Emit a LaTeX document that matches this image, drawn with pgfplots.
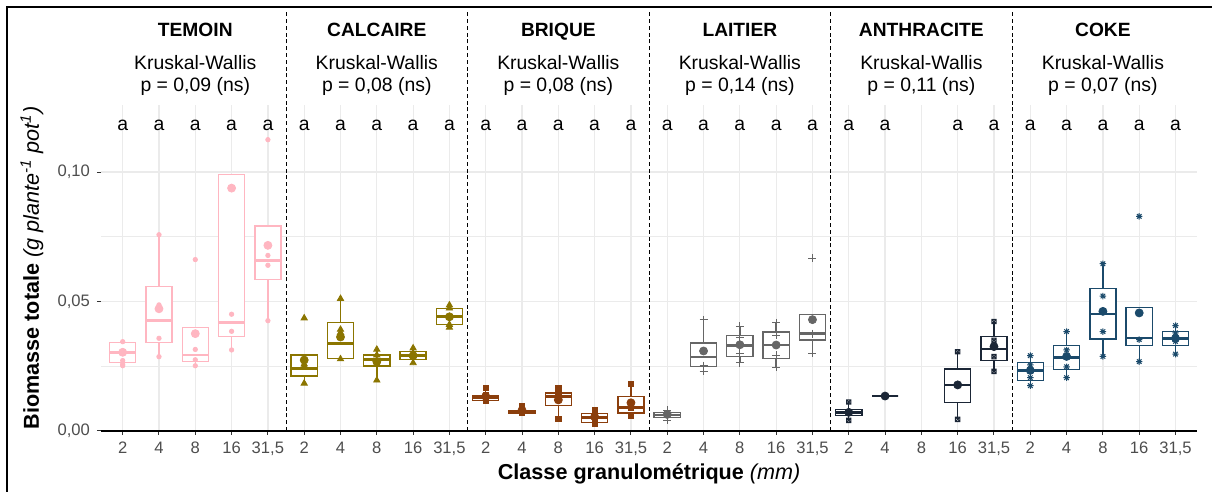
\documentclass[border=0pt]{standalone}
\usepackage{fontspec}
\setmainfont{Liberation Sans}
\usepackage{pgfplots}
\pgfplotsset{compat=1.18}

\definecolor{cTem}{HTML}{FFB6C1}
\definecolor{cCal}{HTML}{8B7500}
\definecolor{cBri}{HTML}{8B3E0C}
\definecolor{cLai}{HTML}{666666}
\definecolor{cAnt}{HTML}{1B2636}
\definecolor{cCok}{HTML}{1B4A6B}
\definecolor{gridc}{HTML}{EBEBEB}
\definecolor{tickc}{HTML}{4D4D4D}

% square with a cross (ggplot shape 7) and 8-ray star (shape 8)
\pgfdeclareplotmark{boxx}{%
  \pgfpathrectangle{\pgfpoint{-\pgfplotmarksize}{-\pgfplotmarksize}}{\pgfpoint{2\pgfplotmarksize}{2\pgfplotmarksize}}%
  \pgfpathmoveto{\pgfpoint{-\pgfplotmarksize}{-\pgfplotmarksize}}%
  \pgfpathlineto{\pgfpoint{\pgfplotmarksize}{\pgfplotmarksize}}%
  \pgfpathmoveto{\pgfpoint{-\pgfplotmarksize}{\pgfplotmarksize}}%
  \pgfpathlineto{\pgfpoint{\pgfplotmarksize}{-\pgfplotmarksize}}%
  \pgfusepathqstroke}
\pgfdeclareplotmark{star8}{%
  \pgfpathmoveto{\pgfpoint{-\pgfplotmarksize}{0pt}}\pgfpathlineto{\pgfpoint{\pgfplotmarksize}{0pt}}%
  \pgfpathmoveto{\pgfpoint{0pt}{-\pgfplotmarksize}}\pgfpathlineto{\pgfpoint{0pt}{\pgfplotmarksize}}%
  \pgfpathmoveto{\pgfpoint{-0.707\pgfplotmarksize}{-0.707\pgfplotmarksize}}\pgfpathlineto{\pgfpoint{0.707\pgfplotmarksize}{0.707\pgfplotmarksize}}%
  \pgfpathmoveto{\pgfpoint{-0.707\pgfplotmarksize}{0.707\pgfplotmarksize}}\pgfpathlineto{\pgfpoint{0.707\pgfplotmarksize}{-0.707\pgfplotmarksize}}%
  \pgfusepathqstroke}

% box: position, lower whisker, Q1, median, Q3, upper whisker, colour
\newcommand{\bx}[7]{%
  \pgfmathsetmacro{\xl}{#1-0.36}\pgfmathsetmacro{\xr}{#1+0.36}%
  \addplot[draw=#7, line width=0.7pt] coordinates {(#1,#2)(#1,#6)};
  \addplot[draw=#7, fill=white, line width=0.7pt] coordinates {(\xl,#3)(\xr,#3)(\xr,#5)(\xl,#5)} --cycle;
  \addplot[draw=#7, line width=1.35pt] coordinates {(\xl,#4)(\xr,#4)};}

\newcommand{\ttl}[3]{%
  \node[anchor=base, font=\bfseries\fontsize{9.6}{11}\selectfont] at (axis cs:#1,0.1525) {#2};
  \node[anchor=base, font=\fontsize{9.7}{11}\selectfont] at (axis cs:#1,0.1398) {Kruskal-Wallis};
  \node[anchor=base, font=\fontsize{9.7}{11}\selectfont] at (axis cs:#1,0.1310) {p = #3 (ns)};}

\begin{document}
\begin{tikzpicture}
\begin{axis}[
  at={(0,0)}, anchor=south west,
  scale only axis,
  width=548.2pt, height=163pt,
  xmin=0.4, xmax=30.6,
  ymin=0, ymax=0.1259,
  axis x line=bottom, axis y line=left,
  axis line style={-, line width=0.6pt},
  y axis line style={draw=none},
  xtick={1,...,30},
  xticklabels={2,4,8,16,{31,5},2,4,8,16,{31,5},2,4,8,16,{31,5},2,4,8,16,{31,5},2,4,8,16,{31,5},2,4,8,16,{31,5}},
  ytick={0,0.05,0.1},
  yticklabels={{0,00},{0,05},{0,10}},
  minor ytick={0.025,0.075},
  xmajorgrids, ymajorgrids, yminorgrids,
  major grid style={color=gridc, line width=0.6pt},
  minor grid style={color=gridc, line width=0.35pt},
  tick align=outside,
  major tick length=2pt, minor tick length=0pt,
  tick style={color=black!80, line width=0.5pt},
  ticklabel style={font=\fontsize{8.3}{9}\selectfont, text=tickc},
  clip=false,
]

% panel separators
\addplot[black, line width=0.5pt, dash pattern=on 2pt off 1.4pt] coordinates {(5.5,0) (5.5,0.1618)};
\addplot[black, line width=0.5pt, dash pattern=on 2pt off 1.4pt] coordinates {(10.5,0) (10.5,0.1618)};
\addplot[black, line width=0.5pt, dash pattern=on 2pt off 1.4pt] coordinates {(15.5,0) (15.5,0.1618)};
\addplot[black, line width=0.5pt, dash pattern=on 2pt off 1.4pt] coordinates {(20.5,0) (20.5,0.1618)};
\addplot[black, line width=0.5pt, dash pattern=on 2pt off 1.4pt] coordinates {(25.5,0) (25.5,0.1618)};

% TEMOIN
\bx{1}{0.0252}{0.0265}{0.0304}{0.0342}{0.0345}{cTem}
\bx{2}{0.0287}{0.0342}{0.0426}{0.0558}{0.0758}{cTem}
\bx{3}{0.0252}{0.0269}{0.0293}{0.0400}{0.0400}{cTem}
\bx{4}{0.0313}{0.0366}{0.0420}{0.0991}{0.0991}{cTem}
\bx{5}{0.0426}{0.0586}{0.0658}{0.0792}{0.0792}{cTem}
\addplot[only marks, mark=*, mark size=1.1pt, color=cTem] coordinates {
(1,0.0345)(1,0.0272)(1,0.0258)(1,0.0252)
(2,0.0758)(2,0.0487)(2,0.0480)(2,0.0358)(2,0.0287)
(3,0.0662)(3,0.0315)(3,0.0275)(3,0.0252)
(4,0.0451)(4,0.0385)(4,0.0313)
(5,0.1125)(5,0.0678)(5,0.0640)(5,0.0426)};
\addplot[only marks, mark=*, mark size=2pt, color=cTem] coordinates {
(1,0.0304)(2,0.0472)(3,0.0376)(4,0.0938)(5,0.0717)};

% CALCAIRE
\bx{6}{0.0184}{0.0212}{0.0242}{0.0293}{0.0293}{cCal}
\bx{7}{0.0278}{0.0279}{0.0337}{0.0420}{0.0511}{cCal}
\bx{8}{0.0196}{0.0251}{0.0277}{0.0293}{0.0315}{cCal}
\bx{9}{0.0263}{0.0275}{0.0291}{0.0306}{0.0320}{cCal}
\bx{10}{0.0400}{0.0411}{0.0441}{0.0474}{0.0486}{cCal}
\addplot[only marks, mark=triangle*, mark size=1.8pt, color=cCal] coordinates {
(6,0.0436)(6,0.0258)(6,0.0250)(6,0.0184)
(7,0.0511)(7,0.0392)(7,0.0380)(7,0.0278)
(8,0.0315)(8,0.0293)(8,0.0270)(8,0.0196)
(9,0.0320)(9,0.0300)(9,0.0291)(9,0.0263)
(10,0.0486)(10,0.0474)(10,0.0441)(10,0.0411)(10,0.0400)};
\addplot[only marks, mark=*, mark size=2pt, color=cCal] coordinates {
(6,0.0274)(7,0.0363)(8,0.0268)(9,0.0291)(10,0.0441)};

% BRIQUE
\bx{11}{0.0118}{0.0118}{0.0129}{0.0138}{0.0166}{cBri}
\bx{12}{0.0069}{0.0069}{0.0073}{0.0077}{0.0097}{cBri}
\bx{13}{0.0046}{0.0098}{0.0134}{0.0147}{0.0166}{cBri}
\bx{14}{0.0027}{0.0032}{0.0051}{0.0067}{0.0082}{cBri}
\bx{15}{0.0058}{0.0069}{0.0091}{0.0134}{0.0183}{cBri}
\addplot[only marks, mark=square*, mark size=1.3pt, color=cBri] coordinates {
(11,0.0166)(11,0.0138)(11,0.0125)(11,0.0118)
(12,0.0097)(12,0.0080)(12,0.0071)(12,0.0069)
(13,0.0166)(13,0.0143)(13,0.0128)(13,0.0046)
(14,0.0082)(14,0.0062)(14,0.0045)(14,0.0027)
(15,0.0183)(15,0.0091)(15,0.0058)};
\addplot[only marks, mark=*, mark size=2pt, color=cBri] coordinates {
(11,0.0134)(12,0.0080)(13,0.0120)(14,0.0055)(15,0.0109)};

% LAITIER
\bx{16}{0.0042}{0.0053}{0.0062}{0.0071}{0.0081}{cLai}
\bx{17}{0.0230}{0.0250}{0.0286}{0.0340}{0.0429}{cLai}
\bx{18}{0.0264}{0.0288}{0.0330}{0.0368}{0.0405}{cLai}
\bx{19}{0.0246}{0.0279}{0.0332}{0.0382}{0.0418}{cLai}
\bx{20}{0.0301}{0.0351}{0.0376}{0.0450}{0.0450}{cLai}
\addplot[only marks, mark=+, mark size=2pt, line width=0.45pt, color=cLai] coordinates {
(16,0.0081)(16,0.0064)(16,0.0042)
(17,0.0429)(17,0.0252)(17,0.0230)
(18,0.0405)(18,0.0362)(18,0.0300)(18,0.0264)
(19,0.0418)(19,0.0370)(19,0.0292)(19,0.0246)
(20,0.0668)(20,0.0376)(20,0.0301)};
\addplot[only marks, mark=*, mark size=2pt, color=cLai] coordinates {
(16,0.0064)(17,0.0309)(18,0.0333)(19,0.0332)(20,0.0430)};

% ANTHRACITE (no plant in class 8)
\bx{21}{0.0041}{0.0060}{0.0072}{0.0084}{0.0112}{cAnt}
\bx{22}{0.0135}{0.0135}{0.0135}{0.0135}{0.0135}{cAnt}
\bx{24}{0.0045}{0.0111}{0.0178}{0.0239}{0.0306}{cAnt}
\bx{25}{0.0230}{0.0273}{0.0317}{0.0364}{0.0423}{cAnt}
\addplot[only marks, mark=boxx, mark size=1.1pt, line width=0.5pt, color=cAnt] coordinates {
(21,0.0112)(21,0.0041)
(24,0.0306)(24,0.0045)
(25,0.0423)(25,0.0350)(25,0.0287)(25,0.0230)};
\addplot[only marks, mark=*, mark size=2pt, color=cAnt] coordinates {
(21,0.0072)(22,0.0135)(24,0.0178)(25,0.0326)};

% COKE
\bx{26}{0.0175}{0.0196}{0.0234}{0.0265}{0.0291}{cCok}
\bx{27}{0.0206}{0.0238}{0.0283}{0.0331}{0.0384}{cCok}
\bx{28}{0.0288}{0.0355}{0.0452}{0.0550}{0.0646}{cCok}
\bx{29}{0.0268}{0.0330}{0.0359}{0.0477}{0.0477}{cCok}
\bx{30}{0.0297}{0.0330}{0.0358}{0.0384}{0.0407}{cCok}
\addplot[only marks, mark=star8, mark size=1.6pt, line width=0.5pt, color=cCok] coordinates {
(26,0.0291)(26,0.0255)(26,0.0206)(26,0.0175)
(27,0.0384)(27,0.0313)(27,0.0248)(27,0.0206)
(28,0.0646)(28,0.0521)(28,0.0384)(28,0.0288)
(29,0.0829)(29,0.0353)(29,0.0268)
(30,0.0407)(30,0.0379)(30,0.0346)(30,0.0297)};
\addplot[only marks, mark=*, mark size=2pt, color=cCok] coordinates {
(26,0.0234)(27,0.0288)(28,0.0462)(29,0.0456)(30,0.0358)};

% letters of the post-hoc groups
\pgfplotsinvokeforeach{1,...,22}{\node[anchor=base, font=\fontsize{9.7}{11}\selectfont] at (axis cs:#1,0.1162) {a};}
\pgfplotsinvokeforeach{24,...,30}{\node[anchor=base, font=\fontsize{9.7}{11}\selectfont] at (axis cs:#1,0.1162) {a};}

\ttl{3}{TEMOIN}{0,09}
\ttl{8}{CALCAIRE}{0,08}
\ttl{13}{BRIQUE}{0,08}
\ttl{18}{LAITIER}{0,14}
\ttl{23}{ANTHRACITE}{0,11}
\ttl{28}{COKE}{0,07}

\node[rotate=90, anchor=base, font=\fontsize{10.8}{12}\selectfont]
  at ([xshift=-31pt]rel axis cs:0,0.5)
  {\textbf{Biomasse totale} \textit{(g plante\textsuperscript{-1} pot\textsuperscript{1})}};
\node[anchor=base, font=\fontsize{10.8}{12}\selectfont]
  at ([yshift=-24.2pt]rel axis cs:0.5,0)
  {\textbf{Classe granulométrique} \textit{(mm)}};
\end{axis}
\draw[black, line width=1pt] (-46.95pt,-31pt) -- (-46.95pt,212pt) -- (556pt,212pt);
\pgfresetboundingbox
\path[use as bounding box] (-50.45pt,-30.5pt) rectangle (555.55pt,215.5pt);
\end{tikzpicture}
\end{document}
